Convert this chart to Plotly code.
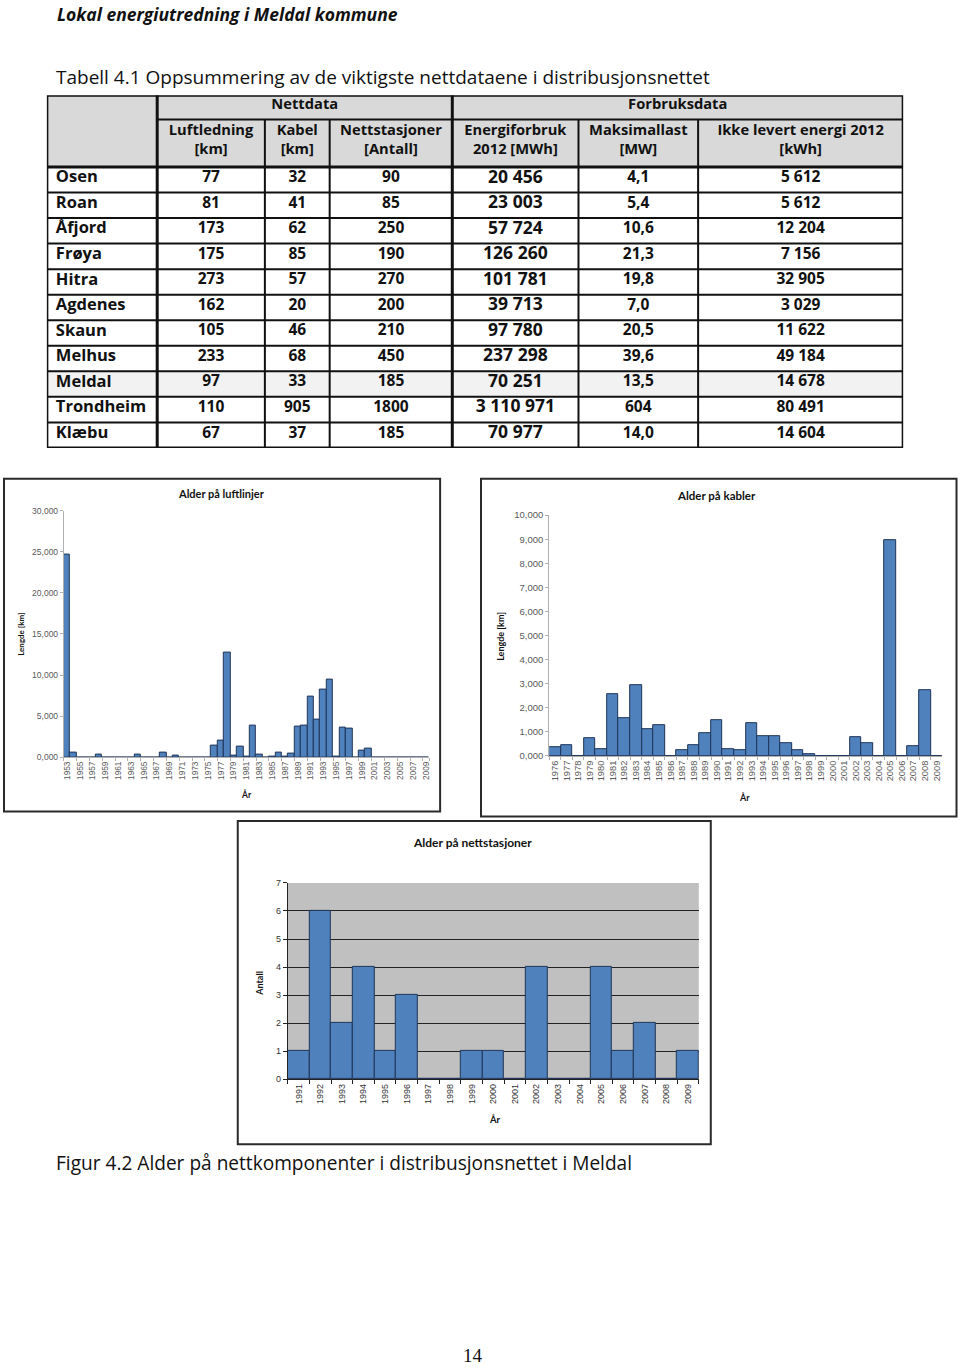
import plotly.graph_objects as go

W, H = 960, 1367

def px(x):
    return x / W

def py(y):
    return 1 - y / H

# ---------------- DATA ----------------
kommuner = ["Osen", "Roan", "Åfjord", "Frøya", "Hitra", "Agdenes", "Skaun",
            "Melhus", "Meldal", "Trondheim", "Klæbu"]
luftledning_km = [77, 81, 173, 175, 273, 162, 105, 233, 97, 110, 67]
kabel_km = [32, 41, 62, 85, 57, 20, 46, 68, 33, 905, 37]
nettstasjoner_antall = [90, 85, 250, 190, 270, 200, 210, 450, 185, 1800, 185]
energiforbruk_mwh = [20456, 23003, 57724, 126260, 101781, 39713, 97780,
                     237298, 70251, 3110971, 70977]
maksimallast_mw = ["4,1", "5,4", "10,6", "21,3", "19,8", "7,0", "20,5",
                   "39,6", "13,5", "604", "14,0"]
ikke_levert_kwh = [5612, 5612, 12204, 7156, 32905, 3029, 11622, 49184,
                   14678, 80491, 14604]

group_headers = ["Nettdata", "Forbruksdata"]
col_headers = ["", "Luftledning<br>[km]", "Kabel<br>[km]", "Nettstasjoner<br>[Antall]",
               "Energiforbruk<br>2012 [MWh]", "Maksimallast<br>[MW]",
               "Ikke levert energi 2012<br>[kWh]"]

luft_years = [str(y) for y in range(1953, 2010)]
luft_km = [24.65, 0.55, 0, 0, 0, 0.35, 0, 0, 0, 0, 0, 0.35, 0, 0, 0, 0.6, 0,
           0.25, 0, 0, 0, 0, 0, 1.4, 2.0, 12.67, 0.15, 1.33, 0.1, 3.82, 0.3,
           0, 0.05, 0.5, 0.1, 0.42, 3.74, 3.8, 7.35, 4.6, 8.28, 9.45, 0.1,
           3.66, 3.5, 0, 0.8, 1.0, 0, 0, 0, 0, 0, 0, 0, 0, 0]

kabel_years = [str(y) for y in range(1976, 2010)]
kabel_len = [0.38, 0.44, 0, 0.74, 0.26, 2.55, 1.55, 2.95, 1.1, 1.28,
             0, 0.25, 0.44, 0.95, 1.48, 0.27, 0.25, 1.35, 0.81, 0.81,
             0.55, 0.25, 0.07, 0, 0, 0, 0.77, 0.51, 0, 8.97,
             0, 0.41, 2.73, 0]

stasjon_years = [str(y) for y in range(1991, 2010)]
stasjon_antall = [1, 6, 2, 4, 1, 3, 0, 0, 1, 1, 0, 4, 0, 0, 4, 1, 2, 0, 1]

# ---------------- STYLE / LAYOUT CONSTANTS ----------------
FONT = "Lato"
TFONT = "Open Sans"
BAR = "#4f81bd"
BAR_LINE = "#1f3558"

col_edges = [45, 155.7, 263.7, 328.7, 451.7, 578.3, 698.3, 904]
t_top, t_h1, t_h2, t_bot = 90, 114.3, 162.3, 445.5
row_h = (t_bot - t_h2) / len(kommuner)
text_dy = -1.5

fig = go.Figure()

# ---------------- TABLE (hidden axis x4/y4 in page pixel units) ----------------
def fmt_space(v):
    return f"{v:,}".replace(",", " ")

columns = [
    kommuner,
    [str(v) for v in luftledning_km],
    [str(v) for v in kabel_km],
    [str(v) for v in nettstasjoner_antall],
    [fmt_space(v) for v in energiforbruk_mwh],
    maksimallast_mw,
    [fmt_space(v) for v in ikke_levert_kwh],
]
col_sizes = [16.5, 15.5, 15.5, 15.5, 17.5, 15.5, 15.5]
row_centers = [t_h2 + row_h * (i + 0.5) + text_dy for i in range(len(kommuner))]

for ci, vals in enumerate(columns):
    if ci == 0:
        xs = [col_edges[0] + 9] * len(vals)
        pos = "middle right"
    else:
        xs = [(col_edges[ci] + col_edges[ci + 1]) / 2] * len(vals)
        pos = "middle center"
    fig.add_trace(go.Scatter(
        x=xs, y=row_centers, text=vals, mode="text", textposition=pos,
        textfont=dict(family=TFONT, size=col_sizes[ci], color="#111", weight="bold"),
        xaxis="x4", yaxis="y4", hoverinfo="skip", showlegend=False, cliponaxis=False))

# header row 2
fig.add_trace(go.Scatter(
    x=[(col_edges[i] + col_edges[i + 1]) / 2 for i in range(1, 7)],
    y=[(t_h1 + t_h2) / 2 + text_dy - 0.5] * 6, text=col_headers[1:], mode="text",
    textposition="middle center",
    textfont=dict(family=TFONT, size=14.7, color="#111", weight="bold"),
    xaxis="x4", yaxis="y4", hoverinfo="skip", showlegend=False, cliponaxis=False))
# header row 1
fig.add_trace(go.Scatter(
    x=[(col_edges[1] + col_edges[4]) / 2, (col_edges[4] + col_edges[7]) / 2],
    y=[(t_top + t_h1) / 2 + text_dy - 1] * 2, text=group_headers, mode="text",
    textposition="middle center",
    textfont=dict(family=TFONT, size=14.7, color="#111", weight="bold"),
    xaxis="x4", yaxis="y4", hoverinfo="skip", showlegend=False, cliponaxis=False))

shapes = []
def tshape(**kw):
    d = dict(xref="x4", yref="y4", layer="below")
    d.update(kw)
    shapes.append(d)

# fills
tshape(type="rect", x0=col_edges[0], x1=col_edges[-1], y0=t_top, y1=t_h2,
       fillcolor="#d9d9d9", line=dict(width=0))
meldal_i = kommuner.index("Meldal")
tshape(type="rect", x0=col_edges[0], x1=col_edges[-1],
       y0=t_h2 + row_h * meldal_i, y1=t_h2 + row_h * (meldal_i + 1),
       fillcolor="#f2f2f2", line=dict(width=0))
# horizontal lines
for i in range(1, len(kommuner)):
    yy = t_h2 + row_h * i
    tshape(type="line", x0=col_edges[0], x1=col_edges[-1], y0=yy, y1=yy,
           line=dict(color="#111", width=2), layer="above")
tshape(type="line", x0=col_edges[1], x1=col_edges[-1], y0=t_h1, y1=t_h1,
       line=dict(color="#111", width=2), layer="above")
tshape(type="line", x0=col_edges[0], x1=col_edges[-1], y0=t_h2, y1=t_h2,
       line=dict(color="#111", width=3), layer="above")
# vertical lines
for i in range(1, 7):
    y0 = t_top if i in (1, 4) else t_h1
    tshape(type="line", x0=col_edges[i], x1=col_edges[i], y0=y0, y1=t_bot,
           line=dict(color="#111", width=3 if i in (1, 4) else 2), layer="above")
# outer border
tshape(type="rect", x0=col_edges[0], x1=col_edges[-1], y0=t_top, y1=t_bot,
       line=dict(color="#111", width=3), layer="above")

# ---------------- BAR CHARTS ----------------
fig.add_trace(go.Bar(x=luft_years, y=luft_km, marker=dict(color=BAR, line=dict(color=BAR_LINE, width=1)),
                     xaxis="x", yaxis="y", showlegend=False))
fig.add_trace(go.Bar(x=kabel_years, y=kabel_len, marker=dict(color=BAR, line=dict(color=BAR_LINE, width=1)),
                     xaxis="x2", yaxis="y2", showlegend=False))
fig.add_trace(go.Bar(x=stasjon_years, y=stasjon_antall, marker=dict(color=BAR, line=dict(color=BAR_LINE, width=1)),
                     xaxis="x3", yaxis="y3", showlegend=False))

gray_ax = dict(showline=True, linecolor="#b0b0b0", linewidth=1, ticks="outside",
               tickcolor="#b0b0b0", ticklen=3, showgrid=False, zeroline=False,
               fixedrange=True)

layout_axes = dict(
    xaxis=dict(domain=[px(62), px(428.6)], anchor="y", type="category",
               tickmode="array", tickvals=luft_years[::2], tickangle=-90,
               tickson="boundaries",
               tickfont=dict(family="Liberation Sans", size=8.3, color="#595959"),
               **gray_ax),
    yaxis=dict(domain=[py(757.3), py(508.7)], anchor="x", range=[0, 30], dtick=5,
               tickformat=".3f",
               tickfont=dict(family="Liberation Sans", size=8.5, color="#595959"),
               **gray_ax),
    xaxis2=dict(domain=[px(548.9), px(943.3)], anchor="y2", type="category",
                tickmode="array", tickvals=kabel_years, tickangle=-90,
                tickson="boundaries",
                tickfont=dict(family="Liberation Sans", size=9.3, color="#595959"),
                **gray_ax),
    yaxis2=dict(domain=[py(756), py(513.3)], anchor="x2", range=[0, 10], dtick=1,
                tickformat=".3f",
                tickfont=dict(family="Liberation Sans", size=9.5, color="#595959"),
                **gray_ax),
    xaxis3=dict(domain=[px(286.7), px(699)], anchor="y3", type="category",
                tickmode="array", tickvals=stasjon_years, tickangle=-90,
                tickson="boundaries", showline=True, linecolor="#222", linewidth=1,
                ticks="outside", tickcolor="#222", ticklen=4, showgrid=False,
                zeroline=False,
                tickfont=dict(family="Liberation Sans", size=9, color="#333")),
    yaxis3=dict(domain=[py(1082), py(884)], anchor="x3", range=[0, 7], dtick=1,
                tickformat="d", showline=True, linecolor="#222", linewidth=1,
                ticks="outside", tickcolor="#222", ticklen=4, showgrid=True,
                gridcolor="#222", gridwidth=1, zeroline=False,
                tickfont=dict(family="Liberation Sans", size=9, color="#333")),
    xaxis4=dict(domain=[px(col_edges[0]), px(col_edges[-1])], anchor="y4",
                range=[col_edges[0], col_edges[-1]], visible=False, fixedrange=True),
    yaxis4=dict(domain=[py(t_bot), py(t_top)], anchor="x4",
                range=[t_bot, t_top], visible=False, fixedrange=True),
)

# chart 3 grey plot area
shapes.append(dict(type="rect", xref="x3 domain", yref="y3 domain", x0=0, x1=1, y0=0, y1=1,
                   fillcolor="#c0c0c0", line=dict(width=0), layer="below"))

# chart image frames
for (x0, y0, x1, y1) in [(2, 476.5, 439.5, 812), (480.5, 476.5, 957.5, 817),
                         (236.5, 821.5, 711, 1147.5)]:
    shapes.append(dict(type="rect", xref="paper", yref="paper",
                       x0=px(x0), x1=px(x1), y0=py(y1), y1=py(y0),
                       line=dict(color="#2a2a2a", width=2), layer="above"))

annotations = []
def note(text, x, y, size, family=FONT, color="#111", xanchor="center", angle=0, bold=False, italic=False):
    t = text
    if bold:
        t = "<b>" + t + "</b>"
    if italic:
        t = "<i>" + t + "</i>"
    annotations.append(dict(text=t, x=px(x), y=py(y), xref="paper", yref="paper",
                            xanchor=xanchor, yanchor="middle", showarrow=False,
                            textangle=angle, borderpad=0,
                            font=dict(family=family, size=size, color=color)))

note("Lokal energiutredning i Meldal kommune", 54, 8, 17.5, family=TFONT, xanchor="left", bold=True, italic=True)
note("Tabell 4.1 Oppsummering av de viktigste nettdataene i distribusjonsnettet", 53, 72, 19, family=TFONT, xanchor="left")

note("Alder på luftlinjer", 220, 491, 11, bold=True)
note("Lengde [km]", 19, 633, 8, angle=-90, bold=True)
note("År", 245, 795, 8.5, bold=True)

note("Alder på kabler", 717, 493, 11.5, bold=True)
note("Lengde [km]", 500.5, 635, 9, angle=-90, bold=True)
note("År", 745, 798, 9, bold=True)

note("Alder på nettstasjoner", 472, 843, 12, bold=True)
note("Antall", 257.5, 985, 9, angle=-90, bold=True)
note("År", 495, 1123, 9.5, bold=True)

note("Figur 4.2 Alder på nettkomponenter i distribusjonsnettet i Meldal", 53, 1166, 19.1, family=TFONT, xanchor="left")
note("14", 472, 1360, 19, family="Liberation Serif")

fig.update_layout(
    width=W, height=H, autosize=False,
    margin=dict(l=0, r=0, t=0, b=0, pad=0),
    paper_bgcolor="white", plot_bgcolor="white",
    bargap=0, separators=", ",
    shapes=shapes, annotations=annotations,
    font=dict(family=FONT),
    **layout_axes,
)

fig.write_html("out.html", post_script="document.body.style.margin='0';",
               config={"displayModeBar": False})
